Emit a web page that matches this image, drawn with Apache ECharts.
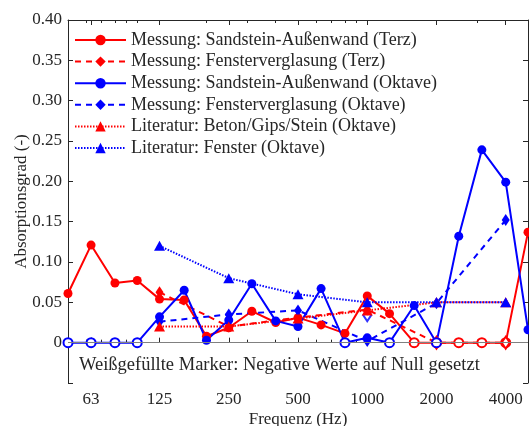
<!DOCTYPE html>
<html>
<head>
<meta charset="UTF-8">
<title>Absorptionsgrad</title>
<script src="https://cdn.jsdelivr.net/npm/echarts@6/dist/echarts.min.js"></script>
<style>
  html, body { margin: 0; padding: 0; background: #fff; }
  #chart { width: 529px; height: 426px; }
</style>
</head>
<body>
<div id="chart"></div>
<script>
// Frequenzen (Hz)
var terzFreq = [50, 63, 80, 100, 125, 160, 200, 250, 315, 400, 500, 630, 800, 1000, 1250, 1600, 2000, 2500, 3150, 4000, 5000];
var oktFreq = [125, 250, 500, 1000, 2000, 4000];

// Messwerte (negative Werte sind auf 0 gesetzt)
var sandTerz = [0.061, 0.121, 0.074, 0.077, 0.054, 0.053, 0.008, 0.0185, 0.039, 0.025, 0.031, 0.022, 0.0115, 0.058, 0.036, 0, 0, 0, 0, 0, 0.137];
var fensterTerz = [0.0625, 0.020, 0.031, 0.041, 0, 0];
var sandOkt = [0, 0, 0, 0, 0.032, 0.065, 0.003, 0.028, 0.073, 0.027, 0.020, 0.067, 0, 0.006, 0, 0.046, 0, 0.132, 0.239, 0.199, 0.016];
var fensterOkt = [0.026, 0.035, 0.040, 0.002, 0.049, 0.152];
var litBeton = [0.02, 0.02, 0.03, 0.04, 0.05, 0.05];
var litFenster = [0.12, 0.08, 0.06, 0.05, 0.05, 0.05];
var extraFreq = [1000];
var extraVal = [0.034];

// Achsenbeschriftung
var majorTicks = [63, 125, 250, 500, 1000, 2000, 4000];
var minorTicks = [60, 70, 80, 90, 100, 200, 300, 400, 500, 600, 700, 800, 900, 1000, 2000, 3000, 4000, 5000];

var FONT = '"Liberation Serif", "DejaVu Serif", serif';
var INK = '#262626';
var RED = '#ff0000';
var BLUE = '#0000ff';

function pts(xs, ys, col) {
  var out = [];
  for (var i = 0; i < xs.length; i++) {
    var p = { value: [xs[i], ys[i]] };
    if (ys[i] === 0) {
      p.itemStyle = { color: '#fff', borderColor: col, borderWidth: 2 };
    }
    out.push(p);
  }
  return out;
}

function xAx(pos, ticks, len, labels) {
  return {
    type: 'log', logBase: 10, min: 50, max: 5000, position: pos,
    axisLine: { show: labels, lineStyle: { color: INK, width: 1 } },
    axisTick: { show: true, inside: true, length: len, customValues: ticks, lineStyle: { color: INK, width: 1 } },
    axisLabel: labels ? {
      show: true, customValues: majorTicks, color: INK, fontFamily: FONT, fontSize: 17, margin: 8,
      formatter: function (v) { return String(Math.round(v)); }
    } : { show: false },
    splitLine: { show: false },
    minorTick: { show: false }
  };
}

var chart = echarts.init(document.getElementById('chart'));

var xBottom = xAx('bottom', majorTicks, 5, true);
xBottom.name = 'Frequenz (Hz)';
xBottom.nameLocation = 'middle';
xBottom.nameGap = 28;
xBottom.nameMoveOverlap = false;
xBottom.nameTextStyle = { color: INK, fontFamily: FONT, fontSize: 17 };
var xTop = xAx('top', majorTicks, 5, true);
xTop.axisLabel = { show: false };

var yBase = {
  type: 'value', min: -0.05, max: 0.40, interval: 0.05,
  axisLine: { show: true, lineStyle: { color: INK, width: 1 } },
  axisTick: { show: true, inside: true, length: 5, lineStyle: { color: INK } },
  splitLine: { show: false }
};

var option = {
  animation: false,
  backgroundColor: '#fff',
  grid: { left: 68, right: 1, top: 20, bottom: 43, containLabel: false, outerBoundsMode: 'none' },
  legend: {
    left: 74, top: 31, padding: 0, orient: 'vertical',
    itemWidth: 51, itemHeight: 13, itemGap: 3.6,
    textStyle: { color: INK, fontFamily: FONT, fontSize: 18, lineHeight: 18 },
    data: [
      'Messung: Sandstein-Außenwand (Terz)',
      'Messung: Fensterverglasung (Terz)',
      'Messung: Sandstein-Außenwand (Oktave)',
      'Messung: Fensterverglasung (Oktave)',
      'Literatur: Beton/Gips/Stein (Oktave)',
      'Literatur: Fenster (Oktave)'
    ]
  },
  xAxis: [xBottom, xAx('bottom', minorTicks, 3, false), xTop, xAx('top', minorTicks, 3, false)],
  yAxis: [
    Object.assign({}, yBase, {
      position: 'left',
      name: 'Absorptionsgrad (-)', nameLocation: 'middle', nameGap: 38, nameMoveOverlap: false,
      nameTextStyle: { color: INK, fontFamily: FONT, fontSize: 17 },
      axisLabel: {
        color: INK, fontFamily: FONT, fontSize: 17, margin: 6,
        formatter: function (v) {
          if (v < -1e-9) return '';
          if (Math.abs(v) < 1e-9) return '0';
          return v.toFixed(2);
        }
      }
    }),
    Object.assign({}, yBase, { position: 'right', axisLabel: { show: false } })
  ],
  graphic: [{
    type: 'text', left: 79, top: 356, silent: true,
    style: { text: 'Weißgefüllte Marker: Negative Werte auf Null gesetzt', fill: INK, fontFamily: FONT, fontSize: 18.5 }
  }],
  series: [
    {
      name: 'Messung: Sandstein-Außenwand (Terz)', type: 'line',
      data: pts(terzFreq, sandTerz, RED),
      symbol: 'circle', symbolSize: 9,
      itemStyle: { color: RED }, lineStyle: { color: RED, width: 2, type: 'solid' },
      markLine: {
        silent: true, symbol: 'none', label: { show: false },
        lineStyle: { color: '#808080', width: 1, type: 'solid' },
        data: [{ yAxis: 0 }]
      }
    },
    {
      name: 'Messung: Fensterverglasung (Terz)', type: 'line',
      data: pts(oktFreq, fensterTerz, RED),
      symbol: 'diamond', symbolSize: [8, 12],
      itemStyle: { color: RED }, lineStyle: { color: RED, width: 2, type: [6, 5] }
    },
    {
      name: 'Messung: Sandstein-Außenwand (Oktave)', type: 'line',
      data: pts(terzFreq, sandOkt, BLUE),
      symbol: 'circle', symbolSize: 9,
      itemStyle: { color: BLUE }, lineStyle: { color: BLUE, width: 2, type: 'solid' }
    },
    {
      name: 'Messung: Fensterverglasung (Oktave)', type: 'line',
      data: pts(oktFreq, fensterOkt, BLUE),
      symbol: 'diamond', symbolSize: [8, 12],
      itemStyle: { color: BLUE }, lineStyle: { color: BLUE, width: 2, type: [6, 5] }
    },
    {
      name: 'Literatur: Beton/Gips/Stein (Oktave)', type: 'line',
      data: pts(oktFreq, litBeton, RED),
      symbol: 'triangle', symbolSize: [11, 10],
      itemStyle: { color: RED }, lineStyle: { color: RED, width: 2, type: [1.5, 1.5] }
    },
    {
      name: 'Literatur: Fenster (Oktave)', type: 'line',
      data: pts(oktFreq, litFenster, BLUE),
      symbol: 'triangle', symbolSize: [11, 10],
      itemStyle: { color: BLUE }, lineStyle: { color: BLUE, width: 2, type: [1.5, 1.5] }
    },
    {
      name: 'extra', type: 'scatter',
      data: extraFreq.map(function (f, i) { return [f, extraVal[i]]; }),
      symbol: 'diamond', symbolSize: [8, 12], z: 1,
      itemStyle: { color: '#fff', borderColor: BLUE, borderWidth: 2 }
    }
  ]
};

chart.setOption(option);
</script>
</body>
</html>
